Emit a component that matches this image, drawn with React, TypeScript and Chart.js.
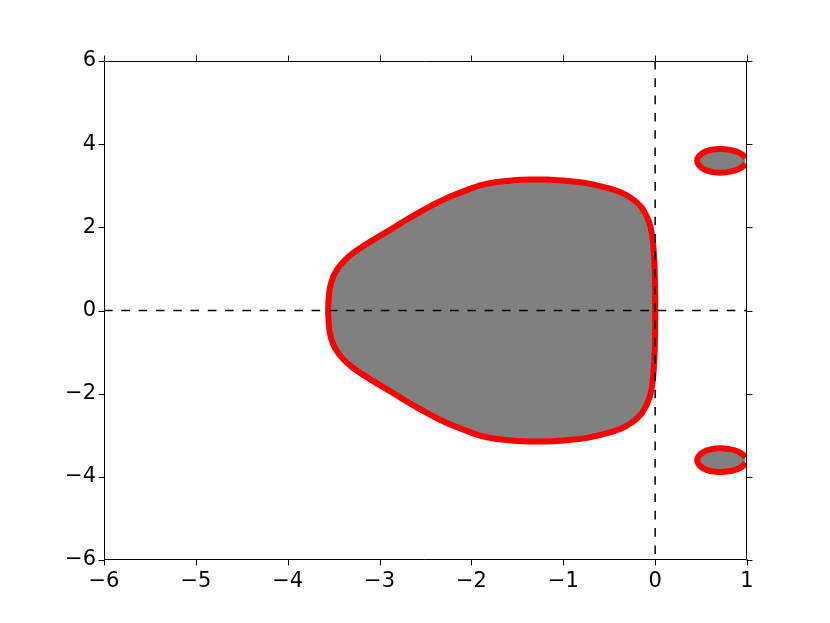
import { useEffect, useRef } from "react";
import { Chart, registerables } from "chart.js";

Chart.register(...registerables);

// Main stability region boundary (traced): upper half from the right edge to the left tip
const mainUpX = [0.001, -0.001, -0.005, -0.014, -0.028, -0.05, -0.088, -0.153, -0.251, -0.382, -0.545, -0.763, -0.981, -1.177, -1.362, -1.547, -1.721, -1.906, -2.08, -2.254, -2.429, -2.603, -2.755, -2.908, -3.06, -3.19, -3.3, -3.387, -3.452, -3.506, -3.541, -3.555, -3.56];
const mainUpY = [0, 0.49, 0.97, 1.38, 1.72, 2.01, 2.25, 2.49, 2.69, 2.85, 2.96, 3.07, 3.12, 3.15, 3.15, 3.13, 3.09, 3.01, 2.87, 2.72, 2.53, 2.32, 2.12, 1.91, 1.71, 1.53, 1.36, 1.19, 1.02, 0.81, 0.54, 0.25, 0];
// lower half from the left tip back to the right edge
const mainDownX = [-3.555, -3.541, -3.506, -3.452, -3.387, -3.3, -3.19, -3.06, -2.908, -2.755, -2.603, -2.429, -2.254, -2.08, -1.906, -1.721, -1.547, -1.362, -1.177, -0.981, -0.763, -0.545, -0.382, -0.251, -0.153, -0.088, -0.05, -0.028, -0.014, -0.005, -0.001, 0.001];
const mainDownY = [-0.25, -0.54, -0.81, -1.02, -1.19, -1.36, -1.53, -1.71, -1.91, -2.12, -2.32, -2.53, -2.72, -2.87, -3.01, -3.09, -3.13, -3.15, -3.15, -3.12, -3.07, -2.96, -2.85, -2.69, -2.49, -2.25, -2.01, -1.72, -1.38, -0.97, -0.49, 0];

// Upper island (open on the right edge)
const islandUpX = [0.98, 0.96, 0.9, 0.82, 0.71, 0.6, 0.52, 0.475, 0.457, 0.475, 0.52, 0.6, 0.71, 0.82, 0.9, 0.96, 0.98];
const islandUpY = [3.66, 3.73, 3.81, 3.86, 3.885, 3.86, 3.79, 3.7, 3.6, 3.5, 3.41, 3.34, 3.315, 3.34, 3.39, 3.47, 3.54];

// Lower island (open on the right edge)
const islandDownX = [0.98, 0.96, 0.9, 0.82, 0.71, 0.6, 0.52, 0.475, 0.457, 0.475, 0.52, 0.6, 0.71, 0.82, 0.9, 0.96, 0.98];
const islandDownY = [-3.66, -3.73, -3.81, -3.86, -3.885, -3.86, -3.79, -3.7, -3.6, -3.5, -3.41, -3.34, -3.315, -3.34, -3.39, -3.47, -3.54];

const xTicks = [-6, -5, -4, -3, -2, -1, 0, 1];
const yTicks = [-6, -4, -2, 0, 2, 4, 6];

const toPts = (xs: number[], ys: number[]) => xs.map((x, i) => ({ x, y: ys[i] }));
const fmt = (v: number) => (v < 0 ? "\u2212" + Math.abs(v) : String(v));

const framePlugin = {
  id: "frame",
  afterDraw(chart: any) {
    const { ctx, chartArea } = chart;
    const xs = chart.scales.x;
    const ys = chart.scales.y;
    const L = Math.round(chartArea.left) + 0.5;
    const R = Math.round(chartArea.right) - 0.5;
    const T = Math.round(chartArea.top) + 0.5;
    const B = Math.round(chartArea.bottom) - 0.5;
    const tl = 6;
    ctx.save();
    ctx.strokeStyle = "#000";
    ctx.lineWidth = 1;
    ctx.beginPath();
    ctx.rect(L, T, R - L, B - T);
    ctx.stroke();
    ctx.beginPath();
    xTicks.forEach((v) => {
      const p = Math.round(xs.getPixelForValue(v)) + 0.5;
      ctx.moveTo(p, B);
      ctx.lineTo(p, B + tl);
      ctx.moveTo(p, T);
      ctx.lineTo(p, T - tl);
    });
    yTicks.forEach((v) => {
      const p = Math.round(ys.getPixelForValue(v)) + 0.5;
      ctx.moveTo(L, p);
      ctx.lineTo(L - tl, p);
      ctx.moveTo(R, p);
      ctx.lineTo(R + tl, p);
    });
    ctx.stroke();
    ctx.restore();
  },
};

const regionStyle = {
  showLine: true,
  borderColor: "#ff0000",
  backgroundColor: "#808080",
  borderWidth: 6,
  borderJoinStyle: "round",
  borderCapStyle: "butt",
  tension: 0.4,
  pointRadius: 0,
  fill: "shape",
  order: 1,
};

const dashStyle = {
  showLine: true,
  borderColor: "#000",
  borderWidth: 1.5,
  borderDash: [8.6, 8.7],
  pointRadius: 0,
  fill: false,
  order: 0,
};

export default function App() {
  const ref = useRef<HTMLCanvasElement | null>(null);
  useEffect(() => {
    if (!ref.current) return;
    const font = { family: "DejaVu Sans", size: 21 };
    const chart = new Chart(ref.current, {
      type: "scatter",
      data: {
        datasets: [
          { ...dashStyle, data: [{ x: -6, y: 0 }, { x: 1, y: 0 }] },
          { ...dashStyle, data: [{ x: 0, y: 6 }, { x: 0, y: -6 }] },
          { ...regionStyle, data: [...toPts(mainUpX, mainUpY), ...toPts(mainDownX, mainDownY)] },
          { ...regionStyle, data: toPts(islandUpX, islandUpY) },
          { ...regionStyle, data: toPts(islandDownX, islandDownY) },
        ],
      },
      options: {
        animation: false,
        responsive: false,
        layout: { padding: { left: 0, right: 83, top: 61, bottom: 0 } },
        plugins: { legend: { display: false }, tooltip: { enabled: false } },
        scales: {
          x: {
            type: "linear",
            min: -6,
            max: 1,
            afterBuildTicks: (s: any) => {
              s.ticks = xTicks.map((v) => ({ value: v }));
            },
            afterFit: (s: any) => {
              s.height = 63;
            },
            ticks: { font, color: "#000", padding: 9, callback: (v: any) => fmt(Number(v)), maxRotation: 0 },
            grid: { display: false, drawTicks: false, tickLength: 0 },
            border: { display: false },
          },
          y: {
            type: "linear",
            min: -6,
            max: 6,
            afterBuildTicks: (s: any) => {
              s.ticks = yTicks.map((v) => ({ value: v }));
            },
            afterFit: (s: any) => {
              s.width = 104;
            },
            ticks: { font, color: "#000", padding: 8, callback: (v: any) => fmt(Number(v)) },
            grid: { display: false, drawTicks: false, tickLength: 0 },
            border: { display: false },
          },
        },
      } as any,
      plugins: [framePlugin],
    });
    return () => chart.destroy();
  }, []);
  return (
    <div style={{ position: "absolute", left: 0, top: 0, width: 830, height: 623, background: "#fff" }}>
      <canvas ref={ref} width={830} height={623} style={{ display: "block" }} />
    </div>
  );
}
